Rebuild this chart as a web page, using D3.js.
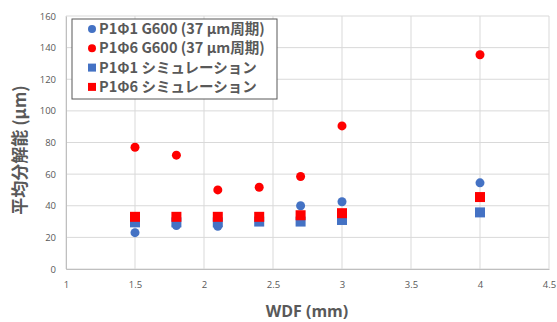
<!DOCTYPE html>
<html>
<head>
<meta charset="utf-8">
<script src="https://cdn.jsdelivr.net/npm/d3@7"></script>
<style>
  body { margin: 0; background: #fff; }
  text { font-family: "Noto Sans CJK JP", "Open Sans", sans-serif; }
</style>
</head>
<body>
<svg width="557" height="322"></svg>
<script>
// chart values
const xTicks = [1, 1.5, 2, 2.5, 3, 3.5, 4, 4.5];
const yTicks = [0, 20, 40, 60, 80, 100, 120, 140, 160];

const wdfMeasured = [1.5, 1.8, 2.1, 2.4, 2.7, 3.0, 4.0];
const p1Meas = [23, 27.5, 27, 30, 40, 42.5, 54.5];   // P1Φ1 G600
const p6Meas = [77, 72, 50, 51.7, 58.5, 90.5, 135.5]; // P1Φ6 G600

const wdfSim = [1.5, 1.8, 2.1, 2.4, 2.7, 3.0, 4.0];
const p1Sim = [29.5, 29.5, 29.5, 30, 30, 31, 35.8];
const p6Sim = [33, 33, 33, 33, 34, 35.3, 45.5];

const seriesNames = [
  "P1Φ1 G600 (37 µm周期)",
  "P1Φ6 G600 (37 µm周期)",
  "P1Φ1 シミュレーション",
  "P1Φ6 シミュレーション"
];

const svg = d3.select("svg");
const margin = {top: 16, right: 8, bottom: 53, left: 66};
const width = 557 - margin.left - margin.right,
      height = 322 - margin.top - margin.bottom;

const x = d3.scaleLinear().domain([1, 4.5]).range([0, width]);
const y = d3.scaleLinear().domain([0, 160]).range([height, 0]);

const g = svg.append("g")
  .attr("transform", "translate(" + margin.left + "," + margin.top + ")");

// gridlines
g.append("g").selectAll("line").data(yTicks).enter().append("line")
  .attr("x1", 0).attr("x2", width)
  .attr("y1", d => y(d)).attr("y2", d => y(d))
  .attr("stroke", "#d9d9d9").attr("stroke-width", 1);
g.append("g").selectAll("line").data(xTicks).enter().append("line")
  .attr("y1", 0).attr("y2", height)
  .attr("x1", d => x(d)).attr("x2", d => x(d))
  .attr("stroke", "#d9d9d9").attr("stroke-width", 1);

// axes
const xAxis = g.append("g")
  .attr("transform", "translate(0," + height + ")")
  .call(d3.axisBottom(x).tickValues(xTicks).tickSize(0).tickPadding(12).tickFormat(d3.format("")));
const yAxis = g.append("g")
  .call(d3.axisLeft(y).tickValues(yTicks).tickSize(0).tickPadding(10));
[xAxis, yAxis].forEach(a => {
  a.select(".domain").attr("stroke", "#bfbfbf");
  a.selectAll("text").attr("fill", "#595959").style("font-size", "9.5px")
    .style("font-family", "'Open Sans', sans-serif");
});

// series: circles then squares
const circ = [[wdfMeasured, p1Meas, "#4472c4"], [wdfMeasured, p6Meas, "#ff0000"]];
circ.forEach(s => {
  g.append("g").selectAll("circle").data(s[0]).enter().append("circle")
    .attr("cx", d => x(d))
    .attr("cy", (d, i) => y(s[1][i]))
    .attr("r", 4.5)
    .attr("fill", s[2]);
});
const sq = [[wdfSim, p1Sim, "#4472c4"], [wdfSim, p6Sim, "#ff0000"]];
sq.forEach(s => {
  g.append("g").selectAll("rect").data(s[0]).enter().append("rect")
    .attr("x", d => x(d) - 5)
    .attr("y", (d, i) => y(s[1][i]) - 5)
    .attr("width", 10).attr("height", 10)
    .attr("fill", s[2]);
});

// axis titles
svg.append("text")
  .attr("x", 307).attr("y", 317)
  .attr("text-anchor", "middle")
  .attr("fill", "#595959").style("font-size", "16px").style("font-weight", "bold")
  .style("font-family", "'Open Sans', sans-serif")
  .text("WDF (mm)");
svg.append("text")
  .attr("transform", "translate(26,150) rotate(-90)")
  .attr("text-anchor", "middle")
  .attr("fill", "#595959").style("font-size", "17px").style("font-weight", "bold")
  .text("平均分解能 (µm)");

// legend
const lg = svg.append("g").attr("transform", "translate(72,19)");
lg.append("rect").attr("width", 205).attr("height", 80)
  .attr("fill", "#fff").attr("stroke", "#595959").attr("stroke-width", 1);
const markers = ["circle", "circle", "rect", "rect"];
const colors = ["#4472c4", "#ff0000", "#4472c4", "#ff0000"];
seriesNames.forEach((name, i) => {
  const cy = 10 + i * 19.3;
  if (markers[i] == "circle") {
    lg.append("circle").attr("cx", 20).attr("cy", cy).attr("r", 4).attr("fill", colors[i]);
  } else {
    lg.append("rect").attr("x", 16).attr("y", cy - 4).attr("width", 8).attr("height", 8).attr("fill", colors[i]);
  }
  lg.append("text").attr("x", 27).attr("y", cy).attr("dy", "0.35em")
    .attr("fill", "#595959").style("font-size", "14.5px").style("font-weight", "bold")
    .text(name);
});
</script>
</body>
</html>
